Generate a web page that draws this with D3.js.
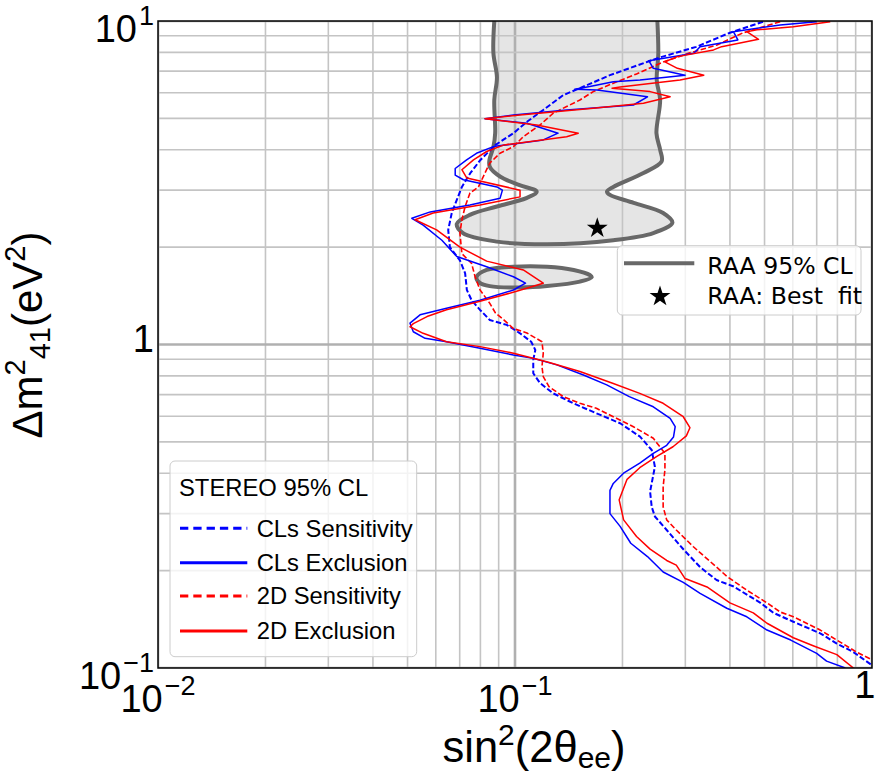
<!DOCTYPE html>
<html><head><meta charset="utf-8">
<script src="https://cdn.jsdelivr.net/npm/d3@7"></script>
<style>body{margin:0;background:#fff}svg{display:block}</style>
</head><body><svg id="c" width="876" height="776"></svg>
<script>
// ---------------- data ----------------
const xDomain = [0.01, 1];
const yDomain = [0.1, 10];
const xTickLabels = [{v: 0.01, base: "10", exp: "\u22122"}, {v: 0.1, base: "10", exp: "\u22121"}, {v: 1, base: "1", exp: ""}];
const yTickLabels = [{v: 10, base: "10", exp: "1"}, {v: 1, base: "1", exp: ""}, {v: 0.1, base: "10", exp: "\u22121"}];

// RAA 95% CL allowed region (open at the top of the plot)
const raaContour = [[0.0875,10],[0.087,7.95],[0.089,6.7],[0.0875,5.7],[0.088,4.5],[0.087,4.08],[0.0848,3.72],[0.085,3.54],[0.091,3.3],[0.103,3.11],[0.115,2.97],[0.108,2.84],[0.089,2.67],[0.075,2.52],[0.0687,2.36],[0.0715,2.21],[0.089,2.08],[0.123,2.04],[0.1885,2.1],[0.244,2.21],[0.276,2.38],[0.26,2.55],[0.215,2.74],[0.1845,2.9],[0.181,2.97],[0.1885,3.07],[0.229,3.39],[0.2575,3.68],[0.255,4.0],[0.249,4.5],[0.255,5.7],[0.2495,6.55],[0.252,7.93],[0.2505,10]];
const raaIsland = [[0.078,1.614],[0.0833,1.70],[0.099,1.74],[0.123,1.74],[0.146,1.70],[0.162,1.64],[0.164,1.614],[0.152,1.565],[0.123,1.516],[0.1033,1.50],[0.085,1.515],[0.0797,1.55]];
const raaBestFit = [0.17, 2.29];

const clsSensitivity = [[0.495,9.95],[0.40,9.2],[0.322,8.32],[0.255,7.72],[0.235,7.48],[0.1845,6.8],[0.152,6.2],[0.1365,5.9],[0.12,5.31],[0.108,4.88],[0.099,4.5],[0.0882,4.14],[0.08,3.72],[0.075,3.39],[0.071,3.07],[0.0687,2.8],[0.0665,2.55],[0.065,2.26],[0.0657,2.0],[0.0701,1.82],[0.0725,1.66],[0.0733,1.475],[0.0756,1.37],[0.0798,1.28],[0.085,1.19],[0.0948,1.15],[0.1033,1.083],[0.111,1.02],[0.114,0.962],[0.1125,0.896],[0.1125,0.815],[0.1175,0.76],[0.128,0.706],[0.1457,0.658],[0.169,0.613],[0.197,0.571],[0.224,0.519],[0.2415,0.472],[0.2465,0.419],[0.239,0.351],[0.2415,0.315],[0.2465,0.294],[0.266,0.267],[0.297,0.232],[0.33,0.205],[0.367,0.187],[0.408,0.179],[0.487,0.159],[0.53,0.148],[0.602,0.139],[0.716,0.128],[0.797,0.119],[0.887,0.112],[1.0,0.102]];

const clsExclusion = [[0.70,9.95],[0.553,9.72],[0.409,9.27],[0.421,8.74],[0.33,8.33],[0.317,7.95],[0.237,7.54],[0.244,7.14],[0.2995,6.8],[0.224,6.57],[0.1885,6.49],[0.162,6.27],[0.147,6.15],[0.1697,6.12],[0.235,5.83],[0.2146,5.5],[0.1395,5.31],[0.099,5.12],[0.0824,4.99],[0.108,4.83],[0.132,4.5],[0.12,4.29],[0.087,4.09],[0.078,3.9],[0.0732,3.72],[0.068,3.5],[0.068,3.34],[0.0717,3.23],[0.089,3.07],[0.0922,3.0],[0.0908,2.83],[0.0748,2.7],[0.0579,2.57],[0.0514,2.455],[0.0553,2.34],[0.0624,2.1],[0.0687,1.87],[0.0833,1.74],[0.099,1.62],[0.107,1.547],[0.099,1.474],[0.0798,1.37],[0.0643,1.294],[0.0542,1.235],[0.0508,1.164],[0.0519,1.095],[0.056,1.045],[0.0643,1.02],[0.0798,0.974],[0.099,0.928],[0.1125,0.906],[0.131,0.865],[0.1555,0.805],[0.1807,0.75],[0.209,0.69],[0.244,0.642],[0.272,0.591],[0.281,0.557],[0.278,0.518],[0.266,0.488],[0.244,0.461],[0.2236,0.43],[0.2014,0.40],[0.1885,0.372],[0.1845,0.354],[0.1845,0.30],[0.197,0.274],[0.211,0.243],[0.235,0.221],[0.26,0.198],[0.296,0.184],[0.33,0.17],[0.392,0.153],[0.446,0.144],[0.508,0.131],[0.592,0.122],[0.70,0.111],[0.746,0.105],[0.842,0.10]];

const sensitivity2D = [[0.553,9.95],[0.435,9.19],[0.368,8.43],[0.309,7.97],[0.26,7.47],[0.219,6.86],[0.1885,6.42],[0.1657,6.05],[0.152,5.7],[0.1395,5.44],[0.128,5.19],[0.1175,4.77],[0.1055,4.39],[0.099,4.09],[0.0908,3.9],[0.085,3.64],[0.0824,3.39],[0.079,3.07],[0.0748,2.94],[0.0725,2.67],[0.071,2.43],[0.0701,2.21],[0.071,1.91],[0.0756,1.78],[0.0773,1.62],[0.0798,1.475],[0.085,1.34],[0.0882,1.25],[0.0932,1.19],[0.099,1.12],[0.108,1.085],[0.119,1.02],[0.12,0.94],[0.119,0.854],[0.12,0.796],[0.1245,0.741],[0.1365,0.69],[0.152,0.658],[0.169,0.635],[0.1885,0.598],[0.2146,0.557],[0.244,0.513],[0.263,0.461],[0.263,0.41],[0.26,0.363],[0.26,0.315],[0.266,0.287],[0.283,0.267],[0.316,0.237],[0.367,0.205],[0.392,0.192],[0.446,0.174],[0.508,0.159],[0.553,0.149],[0.602,0.144],[0.716,0.131],[0.797,0.122],[0.905,0.112],[1.0,0.106]];

const exclusion2D = [[0.764,9.95],[0.602,9.6],[0.476,9.39],[0.446,9.27],[0.481,8.78],[0.379,8.33],[0.36,8.14],[0.285,7.76],[0.263,7.48],[0.285,7.14],[0.338,6.8],[0.29,6.57],[0.197,6.25],[0.187,6.2],[0.239,6.05],[0.272,5.83],[0.229,5.57],[0.1657,5.37],[0.1033,5.12],[0.0824,4.99],[0.115,4.77],[0.1504,4.5],[0.1395,4.39],[0.0932,4.14],[0.0833,3.95],[0.0765,3.72],[0.071,3.47],[0.0733,3.27],[0.1033,3.0],[0.1033,2.86],[0.0798,2.7],[0.059,2.55],[0.0525,2.43],[0.0603,2.26],[0.0701,2.0],[0.0833,1.81],[0.1055,1.70],[0.12,1.547],[0.101,1.46],[0.0798,1.36],[0.0643,1.28],[0.0567,1.22],[0.0519,1.16],[0.0508,1.135],[0.0553,1.083],[0.0643,1.02],[0.0798,0.985],[0.099,0.94],[0.1227,0.885],[0.152,0.825],[0.1885,0.758],[0.2236,0.706],[0.26,0.658],[0.296,0.598],[0.309,0.553],[0.302,0.522],[0.277,0.483],[0.249,0.45],[0.2236,0.416],[0.206,0.383],[0.1958,0.331],[0.2015,0.287],[0.219,0.255],[0.239,0.233],[0.266,0.215],[0.283,0.208],[0.2995,0.189],[0.345,0.178],[0.40,0.159],[0.465,0.148],[0.508,0.1375],[0.602,0.124],[0.687,0.117],[0.797,0.11],[0.887,0.1]];

const stereoLegendTitle = "STEREO 95% CL";
const stereoLegendLabels = ["CLs Sensitivity", "CLs Exclusion", "2D Sensitivity", "2D Exclusion"];
const raaLegendLabels = ["RAA 95% CL", "RAA: Best\u00A0 fit"];
const xAxisLabel = ["sin", "2", "(2\u03B8", "ee", ")"];
const yAxisLabel = ["\u0394m", "2", "41", "(eV", "2", ")"];

// ---------------- drawing ----------------
const W = 876, H = 776;
const m = {l: 158, r: 872, t: 21, b: 668};
const svg = d3.select("#c");
const x = d3.scaleLog().domain(xDomain).range([m.l, m.r]);
const y = d3.scaleLog().domain(yDomain).range([m.b, m.t]);
const SANS = "'Liberation Sans', Arial, Helvetica, sans-serif";
const DEJAVU = "'DejaVu Sans', sans-serif";

svg.append("rect").attr("width", W).attr("height", H).attr("fill", "#fff");
svg.append("defs").append("clipPath").attr("id", "clip")
  .append("rect").attr("x", m.l).attr("y", m.t).attr("width", m.r - m.l).attr("height", m.b - m.t);
const plot = svg.append("g").attr("clip-path", "url(#clip)");

const smooth = d3.line().x(d => x(d[0])).y(d => y(d[1])).curve(d3.curveCatmullRom.alpha(0.5));
const smoothClosed = d3.line().x(d => x(d[0])).y(d => y(d[1])).curve(d3.curveCatmullRomClosed.alpha(0.5));
const lin = d3.line().x(d => x(d[0])).y(d => y(d[1]));

const GRAY_FILL = "#e5e5e5", GRAY_LINE = "#686868";
// RAA fills
plot.append("path").attr("d", smooth(raaContour) + "Z").attr("fill", GRAY_FILL).attr("stroke", "none");
plot.append("path").attr("d", smoothClosed(raaIsland)).attr("fill", GRAY_FILL).attr("stroke", "none");

// grid
const isMajor = v => Math.abs(Math.log10(v) - Math.round(Math.log10(v))) < 1e-6;
const xt = x.ticks(), yt = y.ticks();
const grid = plot.append("g");
grid.selectAll("line.gx").data(xt).join("line")
  .attr("x1", d => x(d)).attr("x2", d => x(d)).attr("y1", m.t).attr("y2", m.b)
  .attr("stroke", d => isMajor(d) ? "#b0b0b0" : "#c4c4c4").attr("stroke-width", d => isMajor(d) ? 2.6 : 1.6);
grid.selectAll("line.gy").data(yt).join("line")
  .attr("y1", d => y(d)).attr("y2", d => y(d)).attr("x1", m.l).attr("x2", m.r)
  .attr("stroke", d => isMajor(d) ? "#b0b0b0" : "#c4c4c4").attr("stroke-width", d => isMajor(d) ? 2.6 : 1.6);

// RAA contour strokes
plot.append("path").attr("d", smooth(raaContour)).attr("fill", "none").attr("stroke", GRAY_LINE).attr("stroke-width", 4).attr("stroke-linejoin", "round");
plot.append("path").attr("d", smoothClosed(raaIsland)).attr("fill", "none").attr("stroke", GRAY_LINE).attr("stroke-width", 4);

// STEREO curves
const curves = [
  {data: clsSensitivity, color: "#0000ff", dash: "5.5,2.4", w: 2},
  {data: sensitivity2D, color: "#ff0000", dash: "5.5,2.4", w: 1.6},
  {data: clsExclusion, color: "#0000ff", dash: null, w: 1.5},
  {data: exclusion2D, color: "#ff0000", dash: null, w: 1.5}
];
curves.forEach(c => {
  plot.append("path").attr("d", lin(c.data)).attr("fill", "none").attr("stroke", c.color)
    .attr("stroke-width", c.w).attr("stroke-dasharray", c.dash).attr("stroke-linejoin", "round");
});

// best fit star
const STAR = 135;
plot.append("path").attr("d", d3.symbol(d3.symbolStar, STAR)())
  .attr("transform", `translate(${x(raaBestFit[0])},${y(raaBestFit[1])})`).attr("fill", "#000");

// frame
svg.append("rect").attr("x", m.l).attr("y", m.t).attr("width", m.r - m.l).attr("height", m.b - m.t)
  .attr("fill", "none").attr("stroke", "#000").attr("stroke-width", 1.5);

// tick labels
const TF = 38, SF = 27, RAISE = 17;
yTickLabels.forEach(t => {
  const hasExp = t.exp !== "";
  const txt = svg.append("text").attr("x", 154).attr("y", y(t.v) + (hasExp ? 21 : 7))
    .attr("text-anchor", "end").attr("font-family", SANS).attr("font-size", TF).attr("fill", "#000");
  txt.append("tspan").text(t.base);
  if (hasExp) txt.append("tspan").attr("font-size", SF).attr("dy", -RAISE).attr("dx", 2).text(t.exp);
});
xTickLabels.forEach(t => {
  const hasExp = t.exp !== "";
  // the last label sits on the right edge of the picture: keep it inside the canvas
  const atEdge = x(t.v) + 11 > W;
  const txt = svg.append("text").attr("x", atEdge ? W - 0.5 : x(t.v)).attr("y", m.b + (hasExp ? 44 : 30))
    .attr("text-anchor", atEdge ? "end" : "middle").attr("font-family", SANS).attr("font-size", TF).attr("fill", "#000");
  txt.append("tspan").text(t.base);
  if (hasExp) txt.append("tspan").attr("font-size", SF).attr("dy", -RAISE).attr("dx", 2).text(t.exp);
});

// axis labels
{
  const AF = 43.5, ASF = 30;
  const t = svg.append("text").attr("x", 534).attr("y", 762).attr("text-anchor", "middle")
    .attr("font-family", SANS).attr("font-size", AF).attr("fill", "#000");
  t.append("tspan").text(xAxisLabel[0]);
  t.append("tspan").attr("font-size", ASF).attr("dy", -17).text(xAxisLabel[1]);
  t.append("tspan").attr("dy", 17).text(xAxisLabel[2]);
  t.append("tspan").attr("font-size", ASF).attr("dy", 6).text(xAxisLabel[3]);
  t.append("tspan").attr("dy", -6).text(xAxisLabel[4]);
}
{
  const AF = 42, ASF = 29;
  const t = svg.append("text").attr("transform", "translate(42,335) rotate(-90)").attr("text-anchor", "middle")
    .attr("font-family", SANS).attr("font-size", AF).attr("fill", "#000");
  t.append("tspan").text(yAxisLabel[0]);
  t.append("tspan").attr("font-size", ASF).attr("dy", -17).text(yAxisLabel[1]);
  t.append("tspan").attr("font-size", ASF).attr("dy", 25).text(yAxisLabel[2]);
  t.append("tspan").attr("dy", -8).text(yAxisLabel[3]);
  t.append("tspan").attr("font-size", ASF).attr("dy", -17).text(yAxisLabel[4]);
  t.append("tspan").attr("dy", 17).text(yAxisLabel[5]);
}

// STEREO legend
{
  const LF = 23.8;
  const g = svg.append("g");
  g.append("rect").attr("x", 170).attr("y", 461).attr("width", 246.7).attr("height", 195.7).attr("rx", 5)
    .attr("fill", "#fff").attr("fill-opacity", 0.8).attr("stroke", "#cccccc").attr("stroke-width", 1);
  g.append("text").attr("x", 179).attr("y", 495.5).attr("font-family", SANS).attr("font-size", LF).text(stereoLegendTitle);
  const rowsY = [528.3, 562.7, 596, 631];
  stereoLegendLabels.forEach((lab, i) => {
    const c = [curves[0], curves[2], curves[1], curves[3]][i];
    g.append("line").attr("x1", 180).attr("x2", 247.3).attr("y1", rowsY[i]).attr("y2", rowsY[i])
      .attr("stroke", c.color).attr("stroke-width", 3).attr("stroke-dasharray", c.dash ? "8.3,5" : null);
    g.append("text").attr("x", 256.7).attr("y", rowsY[i] + 8.3).attr("font-family", SANS).attr("font-size", LF).text(lab);
  });
}

// RAA legend
{
  const RF = 23.6;
  const g = svg.append("g");
  g.append("rect").attr("x", 617.3).attr("y", 245.7).attr("width", 243.7).attr("height", 69.3).attr("rx", 5)
    .attr("fill", "#fff").attr("fill-opacity", 0.8).attr("stroke", "#cccccc").attr("stroke-width", 1);
  g.append("line").attr("x1", 624).attr("x2", 694.3).attr("y1", 263.3).attr("y2", 263.3)
    .attr("stroke", GRAY_LINE).attr("stroke-width", 4);
  g.append("path").attr("d", d3.symbol(d3.symbolStar, STAR)()).attr("transform", "translate(660,296.5)").attr("fill", "#000");
  g.append("text").attr("x", 707.3).attr("y", 274.3).attr("font-family", DEJAVU).attr("font-size", RF).text(raaLegendLabels[0]);
  g.append("text").attr("x", 707.3).attr("y", 304).attr("font-family", DEJAVU).attr("font-size", RF).text(raaLegendLabels[1]);
}
</script></body></html>
